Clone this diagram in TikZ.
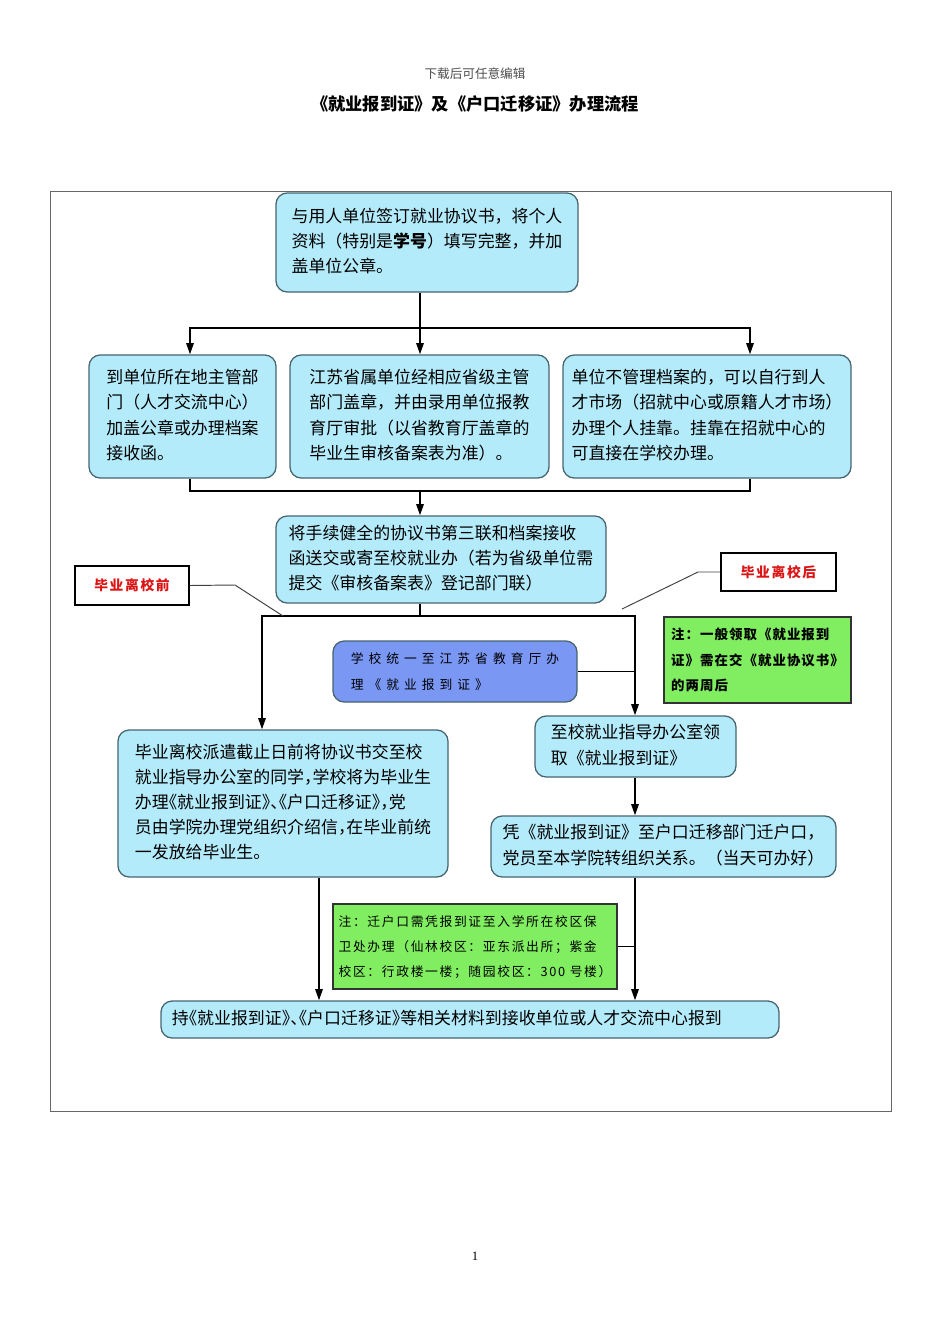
\documentclass[tikz,border=0pt]{standalone}
\usepackage{fontspec}
\setmainfont{Noto Sans CJK SC}
\newfontfamily\labelfont[LetterSpace=12]{Noto Sans CJK SC}
\newfontfamily\schoolfont[LetterSpace=39]{Noto Sans CJK SC}
\newfontfamily\notefont[LetterSpace=8]{Noto Sans CJK SC}
\newfontfamily\campusfont[LetterSpace=13]{Noto Sans CJK SC}
\newfontfamily\halffont[RawFeature=+halt]{Noto Sans CJK SC}
\newfontfamily\pagefont{Liberation Serif}
\usetikzlibrary{arrows.meta}

\definecolor{boxfill}{RGB}{180,235,250}
\definecolor{boxline}{RGB}{70,100,112}
\definecolor{schoolfill}{RGB}{123,151,244}
\definecolor{notefill}{RGB}{128,238,96}
\definecolor{labelred}{RGB}{220,20,20}

% left-aligned block of lines
\newcommand{\boxtext}[1]{\begin{tabular}{@{}l@{}}#1\end{tabular}}

\tikzset{
  boxsize/.style 2 args={minimum width=#1*0.6263pt, minimum height=#2*0.6263pt},
  stepbox/.style={draw=boxline, fill=boxfill, rounded corners=7pt, line width=0.8pt,
    inner sep=0pt, font=\fontsize{10.6}{15.7}\selectfont},
  schoolbox/.style={stepbox, fill=schoolfill, font=\schoolfont\fontsize{8}{15.7}\selectfont},
  notebox/.style={draw=black!80, fill=notefill, line width=0.8pt, inner sep=0pt},
  tagbox/.style={draw=black, fill=white, line width=0.7pt, inner sep=0pt,
    text=labelred, font=\labelfont\bfseries\fontsize{8.6}{10}\selectfont},
  link/.style={line width=1.1pt},
  flow/.style={link, -{Triangle[length=7pt,width=4.6pt]}},
}

\begin{document}
\begin{tikzpicture}[x=0.6263pt,y=-0.6263pt]
\useasboundingbox (0,0) rectangle (950,1344);
\node[text=black!70, font=\fontsize{7.9}{10}\selectfont] (dl) at (475,74) {下载后可任意编辑};
\node[font=\bfseries\fontsize{10.8}{13}\selectfont] (ttl) at (475,104) {《就业报到证》及《户口迁移证》办理流程};
\draw[black!60, line width=0.6pt] (50,191) rectangle (891,1111);

% boxes
\node[stepbox, boxsize={302}{99}] (sign) at (427,242.5) {\boxtext{与用人单位签订就业协议书，将个人\\资料（特别是\textbf{学号}）填写完整，并加\\盖单位公章。}};
\node[stepbox, boxsize={187}{123}] (local) at (182.5,416.5) {\boxtext{到单位所在地主管部\\门（人才交流中心）\\加盖公章或办理档案\\接收函。}};
\node[stepbox, boxsize={259}{123}] (prov) at (419.5,416.5) {\boxtext{江苏省属单位经相应省级主管\\部门盖章，并由录用单位报教\\育厅审批（以省教育厅盖章的\\毕业生审核备案表为准）。}};
\node[stepbox, boxsize={288}{123}] (market) at (707,416.5) {\boxtext{单位不管理档案的，可以自行到人\\才市场（招就中心或原籍人才市场）\\办理个人挂靠。挂靠在招就中心的\\可直接在学校办理。}};
\node[stepbox, boxsize={330}{87}] (send) at (441,559.5) {\boxtext{将手续健全的协议书第三联和档案接收\\函送交或寄至校就业办（若为省级单位需\\提交《审核备案表》登记部门联）}};
\node[schoolbox, boxsize={244}{61}] (school) at (455,671.5) {\boxtext{学校统一至江苏省教育厅办\\理《就业报到证》}};
\node[stepbox, boxsize={330}{147}, font=\halffont\fontsize{10.6}{15.7}\selectfont] (before) at (283,803.5) {\boxtext{毕业离校派遣截止日前将协议书交至校\\就业指导办公室的同学，学校将为毕业生\\办理《就业报到证》、《户口迁移证》，党\\员由学院办理党组织介绍信，在毕业前统\\一发放给毕业生。}};
\node[stepbox, boxsize={201}{61}] (fetch) at (635.5,746.5) {\boxtext{至校就业指导办公室领\\取《就业报到证》}};
\node[stepbox, boxsize={345}{61}] (move) at (663.5,846.5) {\boxtext{凭《就业报到证》至户口迁移部门迁户口，\\党员至本学院转组织关系。（当天可办好）}};
\node[stepbox, boxsize={618}{37}, font=\halffont\fontsize{10.6}{15.7}\selectfont] (report) at (470,1019.5) {\boxtext{持《就业报到证》、《户口迁移证》等相关材料到接收单位或人才交流中心报到}\rule{29pt}{0pt}};

% notes
\node[notebox, boxsize={187}{86}, font=\notefont\bfseries\fontsize{8.4}{15.7}\selectfont] (note1) at (757.5,660) {\boxtext{注：一般领取《就业报到\\证》需在交《就业协议书》\\的两周后}};
\node[notebox, boxsize={284}{85}, font=\campusfont\fontsize{8}{15.7}\selectfont] (note2) at (475,946.5) {\boxtext{注：迁户口需凭报到证至入学所在校区保\\卫处办理（仙林校区：亚东派出所；紫金\\校区：行政楼一楼；随园校区：300 号楼）}};
\node[tagbox, boxsize={114}{39}] (pre) at (132,585.5) {毕业离校前};
\node[tagbox, boxsize={115}{38}] (post) at (778.5,572) {毕业离校后};

% connectors
\draw[link] (420,0 |- sign.south) -- (420,328) coordinate (split1);
\draw[flow] (split1) -| (190,0 |- local.north);
\draw[flow] (split1) -- (420,0 |- prov.north);
\draw[flow] (split1) -| (750,0 |- market.north);
\draw[link] (190,0 |- local.south) -- (190,491) -- (750,491) -- (750,0 |- market.south);
\coordinate (join1) at (420,491);
\draw[flow] (join1) -- (420,0 |- send.north);
\draw[link] (420,0 |- send.south) -- (420,616) coordinate (split2);
\draw[flow] (split2) -| (262,0 |- before.north);
\draw[flow] (split2) -| (635,0 |- fetch.north);
\draw[link] (school.east) -- (school.east -| 635,0);
\draw[flow] (635,0 |- fetch.south) -- (635,0 |- move.north);
\draw[flow] (319,0 |- before.south) -- (319,0 |- report.north);
\draw[flow] (635,0 |- move.south) -- (635,0 |- report.north);
\draw[link] (note2.east) -- (note2.east -| 635,0);
\draw[black!75, line width=0.6pt] (pre.east) -- (235,585) -- (283,616);
\draw[black!75, line width=0.6pt] (post.west) -- (698,572) -- (622,609);

\node[font=\pagefont\fontsize{8}{10}\selectfont] (pg) at (475,1256) {1};
\end{tikzpicture}
\end{document}
